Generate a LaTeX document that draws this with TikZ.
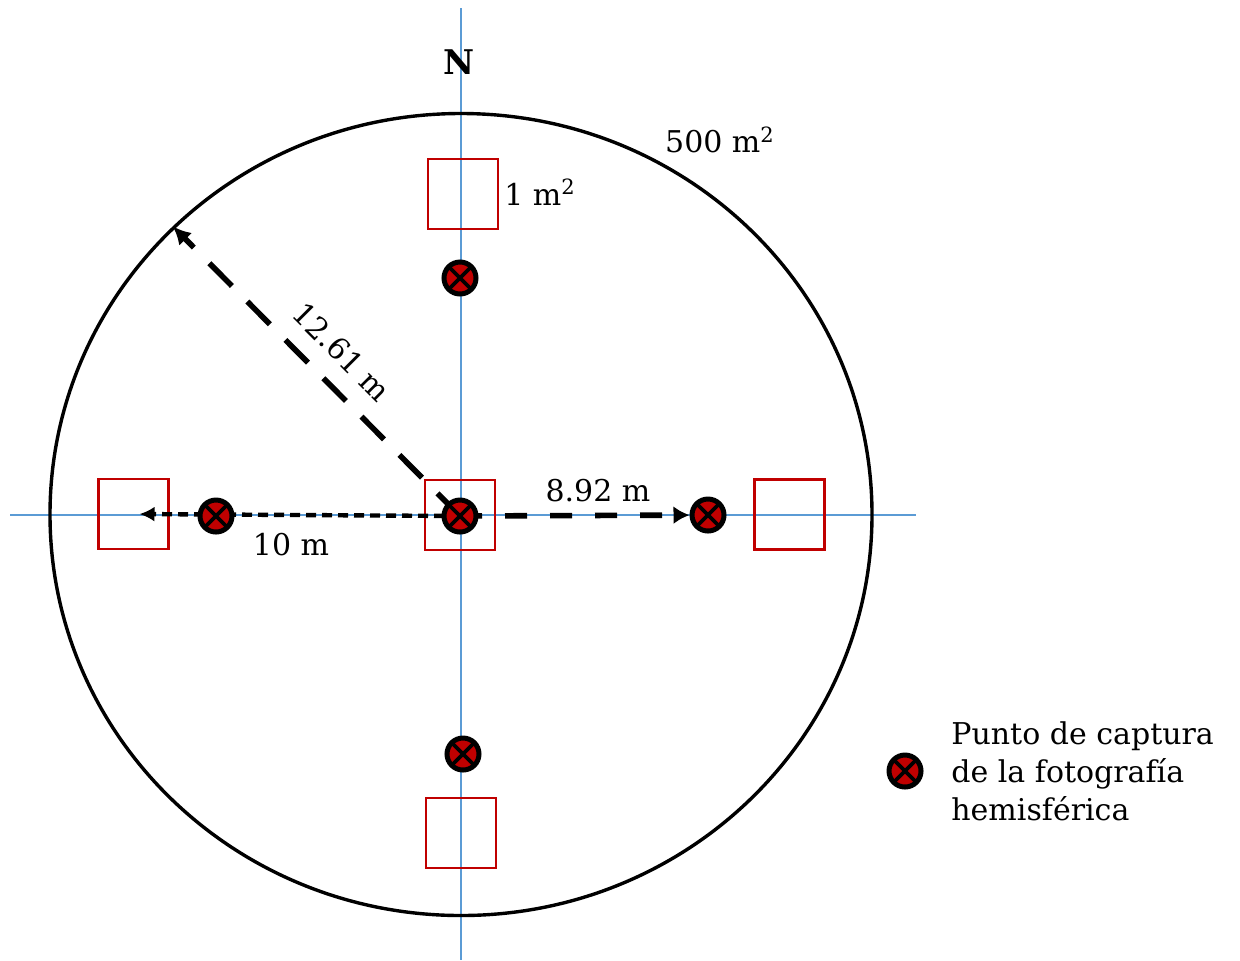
\documentclass[tikz,border=0pt]{standalone}
\usepackage{fontspec}
\setmainfont{DejaVu Serif}
\usetikzlibrary{arrows.meta,shapes.geometric}
\definecolor{axisblue}{HTML}{5B9BD5}
\definecolor{sqred}{HTML}{C00000}
\definecolor{ptred}{HTML}{C00000}
\begin{document}
\begin{tikzpicture}[x=0.5pt,y=-0.5pt,
  axisline/.style={draw=axisblue,line width=0.6pt},
  quadrat/.style={draw=sqred,line width=1.2pt,minimum size=35pt,inner sep=0pt},
  photopt/.style={circle,draw=black,fill=ptred,line width=2.5pt,minimum size=16pt,inner sep=0pt,
    path picture={\draw[line width=1.8pt]
      (path picture bounding box.south west)--(path picture bounding box.north east)
      (path picture bounding box.north west)--(path picture bounding box.south east);}},
  lbl/.style={font=\fontsize{15}{19}\selectfont,inner sep=0pt},
  diagdash/.style={line width=2.8pt,dash pattern=on 16pt off 11pt,
    -{Latex[length=9pt,width=9pt]}},
  rightdash/.style={line width=2.8pt,dash pattern=on 11pt off 11.5pt,
    -{Latex[length=8pt,width=9pt]}},
  smalldash/.style={line width=2.2pt,dash pattern=on 5pt off 3pt,
    -{Latex[length=7.5pt,width=7.5pt]}},
]
\useasboundingbox (0,0) rectangle (1240,960);
% axes
\coordinate (vtop) at (461,8);
\coordinate (vbot) at (461,960);
\coordinate (hl) at (10,515);
\coordinate (hr) at (916,515);
\draw[axisline] (vtop) -- (vbot);
\draw[axisline] (hl) -- (hr);
% plot circle
\node[ellipse,draw=black,line width=1.7pt,minimum width=411pt,minimum height=401pt,inner sep=0pt] (plot) at (461,514.5) {};
% quadrats
\node[quadrat] (tsq) at (463,194) {};
\node[quadrat] (csq) at (460,515) {};
\node[quadrat] (lsq) at (133.5,514) {};
\node[quadrat] (rsq) at (789.5,514.5) {};
\node[quadrat] (bsq) at (461,833) {};
% photo point positions
\coordinate (cmpos) at (460,516);
\coordinate (rmpos) at (708,515);
% arrows
\node[photopt,draw=none,fill=none,path picture={}] (rmghost) at (rmpos) {};
\draw[diagdash] (cmpos) -- (plot.135.5);
\draw[rightdash] (cmpos) -- (rmghost);
\draw[smalldash,shorten >=3pt] (cmpos) -- (lsq.center);
% markers
\node[photopt] (tm) at (460,278) {};
\node[photopt] (cm) at (cmpos) {};
\node[photopt] (lm) at (216,516) {};
\node[photopt] (rm) at (rmpos) {};
\node[photopt] (bm) at (463,754) {};
% labels
\node[font=\fontsize{17}{17}\selectfont\bfseries,inner sep=0pt] (north) at (459,62) {N};
\node[lbl] (area) at (720,140) {500 m\textsuperscript{2}};
\node[lbl] (qarea) at (540,192) {1 m\textsuperscript{2}};
\node[lbl] (d892) at (598,491) {8.92 m};
\node[lbl] (d10) at (291,545) {10 m};
\node[lbl,rotate=-45] (d1261) at (342,352) {12.61 m};
% legend
\node[photopt] (legm) at (905,771) {};
\node[lbl,anchor=west,align=left] (legt) at (951,771) {Punto de captura\\de la fotografía\\hemisférica};
\end{tikzpicture}
\end{document}
